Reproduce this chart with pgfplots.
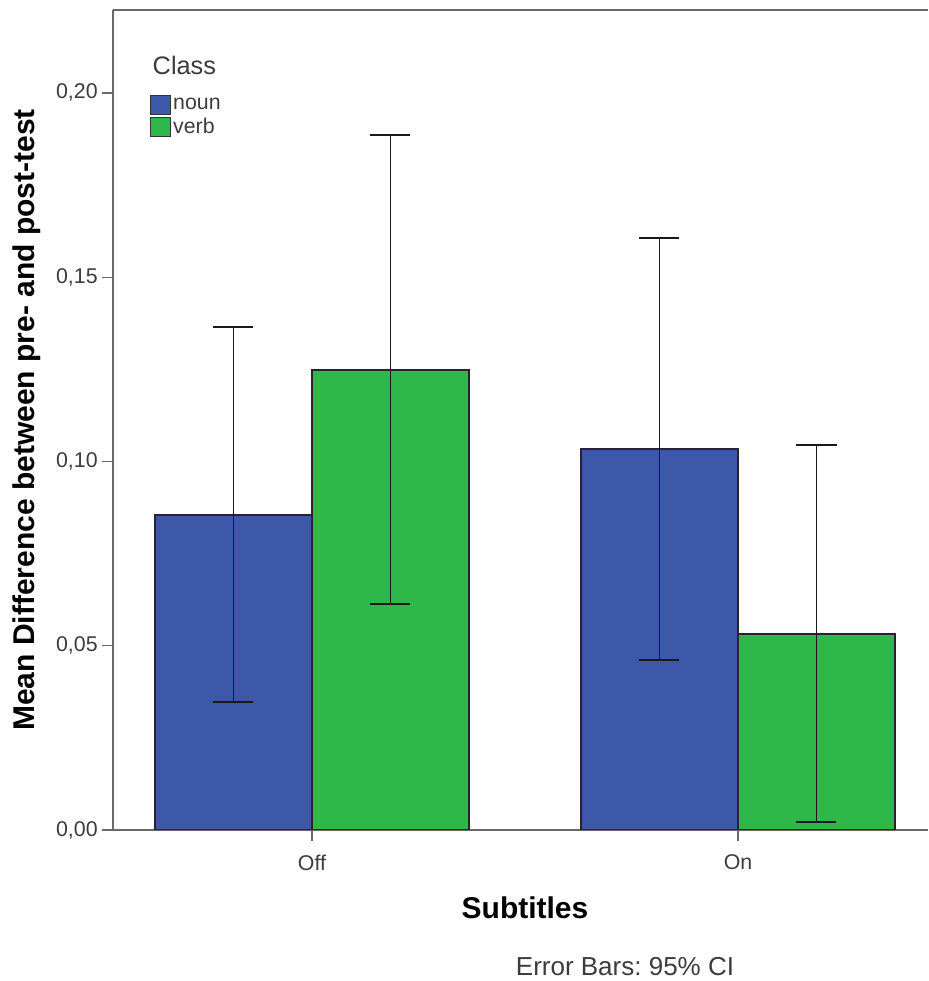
\documentclass[border=0pt]{standalone}
\usepackage{fontspec}
\setmainfont{Liberation Sans}
\usepackage{pgfplots}
\pgfplotsset{compat=1.18}
\usepackage{pgfplotstable}

\definecolor{nounblue}{RGB}{61,87,169}
\definecolor{verbgreen}{RGB}{47,184,74}
\definecolor{axisgray}{RGB}{105,105,105}
\definecolor{labelgray}{RGB}{60,60,60}

% x: 0 = Off, 1 = On ; ep/em = upper/lower 95% CI distance
\pgfplotstableread{
x y ep em
0 0.0855 0.0510 0.0508
1 0.1034 0.0572 0.0573
}\nountable
\pgfplotstableread{
x y ep em
0 0.1248 0.0638 0.0635
1 0.0532 0.0513 0.0510
}\verbtable

\pgfplotsset{ci bars/.style={
    error bars/y dir=both, error bars/y explicit,
    error bars/error bar style={black!90, line width=1.2pt},
    error bars/error mark options={black!90, line width=1.2pt, mark size=15pt, rotate=90},
}}

\begin{document}
\frenchspacing
\begin{tikzpicture}[x=0.75pt,y=0.75pt]
\useasboundingbox (0,0) rectangle (928,981);
\begin{axis}[
    at={(84.75pt,113.25pt)}, anchor=south west,
    scale only axis, width=611.25pt, height=615pt,
    ybar=0pt, bar width=117.75pt,
    xmin=-0.467, xmax=1.446, ymin=0, ymax=0.2225,
    axis x line*=box, axis y line*=left,
    xtick pos=bottom, ytick pos=left,
    axis line style={axisgray, line width=1.6pt},
    tick align=outside, major tick length=8pt,
    tick style={axisgray, line width=1pt},
    xtick={0,1}, xticklabels={Off,On},
    xticklabel style={yshift=-7pt},
    ytick={0,0.05,0.10,0.15,0.20},
    /pgf/number format/assume math mode=true,
    yticklabel style={/pgf/number format/.cd, fixed, fixed zerofill, precision=2, use comma},
    tick label style={font=\fontsize{16}{18}\selectfont, text=labelgray},
    legend style={draw=none, fill=none, at={(rel axis cs:0.04,0.9)}, anchor=north west,
        font=\fontsize{16}{18}\selectfont, text=labelgray, row sep=1pt,
        nodes={inner sep=1.5pt}},
    legend cell align=left,
    legend image code/.code={\draw[#1, draw=black!80, line width=1pt] (0pt,-7pt) rectangle (15pt,7pt);},
]
\addplot[fill=nounblue, draw=black!85, line width=1pt, ci bars]
    table[x=x, y=y, y error plus=ep, y error minus=em] {\nountable};
\addlegendentry{noun}
\addplot[fill=verbgreen, draw=black!85, line width=1pt, ci bars]
    table[x=x, y=y, y error plus=ep, y error minus=em] {\verbtable};
\addlegendentry{verb}
\end{axis}
\node[anchor=west, font=\fontsize{19}{22}\selectfont, text=labelgray] at (148,916) {Class};
\node[rotate=90, font=\fontsize{22.5}{26}\selectfont\bfseries] at (27,561) {Mean Difference between pre- and post-test};
\node[font=\fontsize{22.5}{26}\selectfont\bfseries] at (525,73) {Subtitles};
\node[font=\fontsize{19.5}{22}\selectfont, text=labelgray] at (625,14) {Error Bars: 95\% CI};
\end{tikzpicture}
\end{document}
